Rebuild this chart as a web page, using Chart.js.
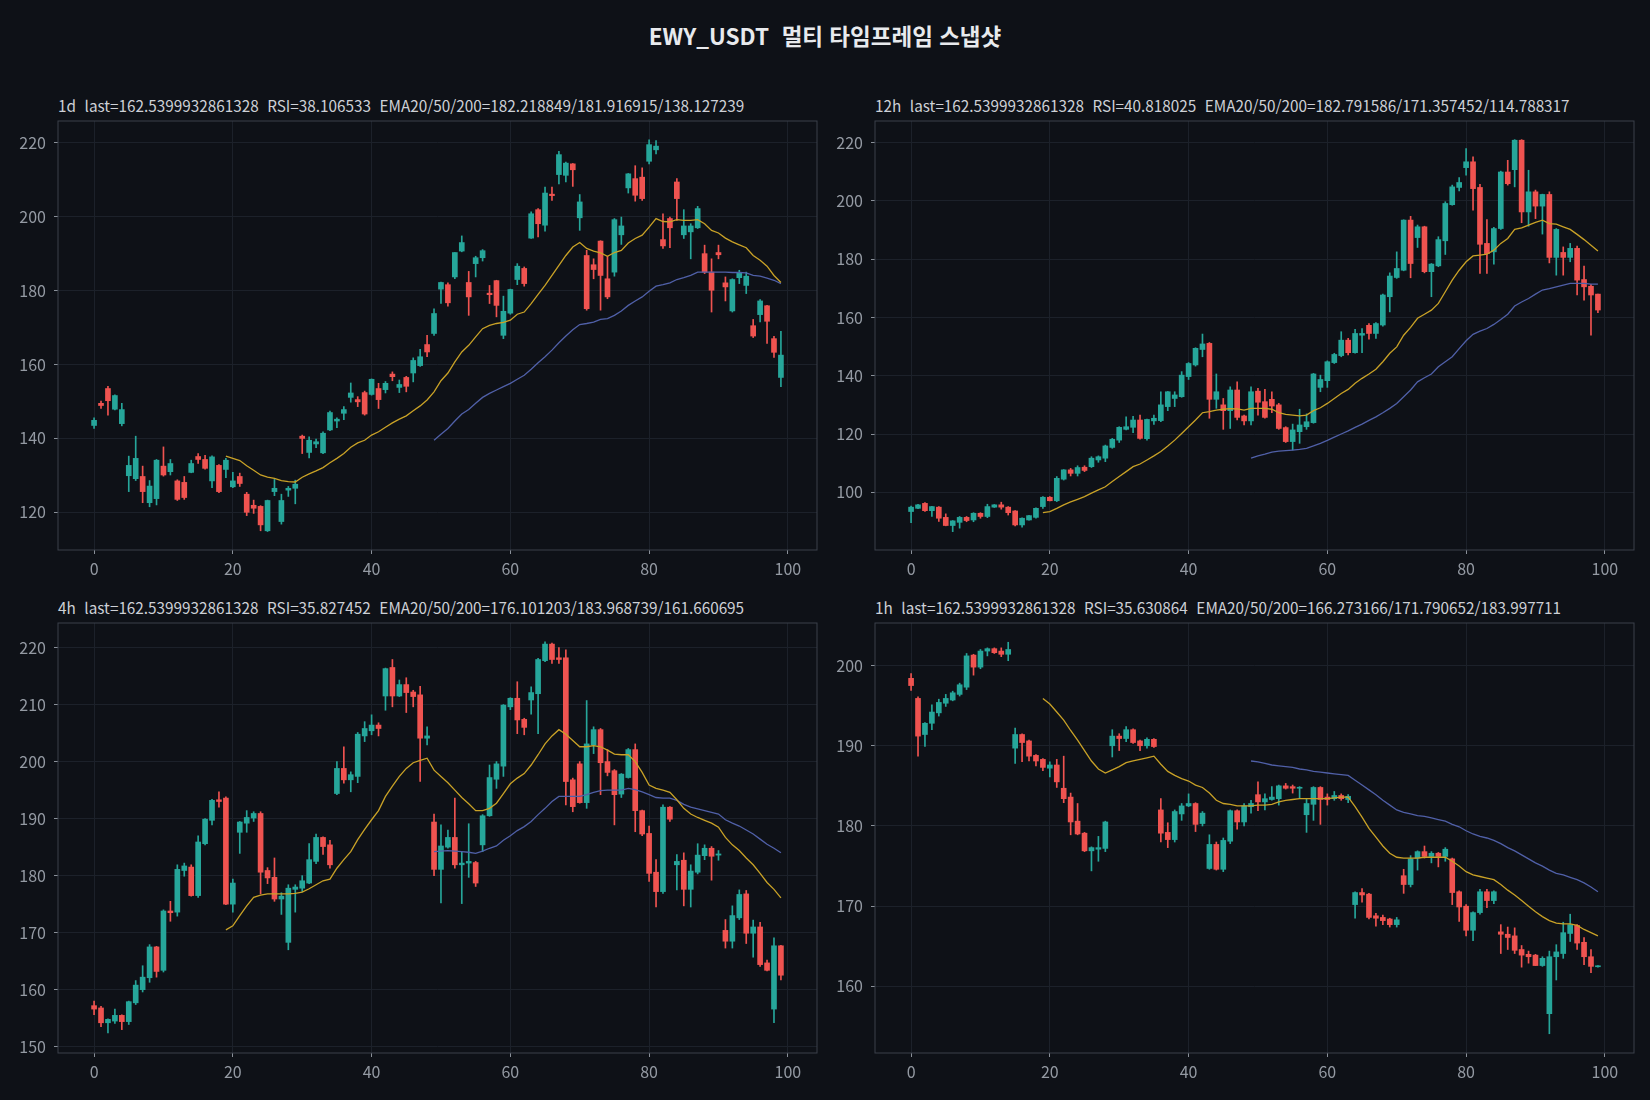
<!DOCTYPE html>
<html lang="ko">
<head>
<meta charset="utf-8">
<title>EWY_USDT 멀티 타임프레임 스냅샷</title>
<script src="https://cdn.jsdelivr.net/npm/chart.js@4.4.1/dist/chart.umd.min.js"></script>
<style>
  html, body { margin: 0; padding: 0; background: #0e1117; }
  body { width: 1650px; height: 1100px; position: relative; overflow: hidden;
         font-family: "Noto Sans CJK KR", "Noto Sans", sans-serif; }
  #title { position: absolute; left: 0; top: 19px; width: 1650px; text-align: center; white-space: pre;
           color: #e8eaed; font-size: 22.5px; font-weight: 700; line-height: 32px; }
  .sub { position: absolute; color: #cdd0d6; font-size: 15.3px; line-height: 18px; white-space: pre; }
  canvas { position: absolute; }
</style>
</head>
<body>
<div id="title">EWY_USDT  멀티 타임프레임 스냅샷</div>
<div class="sub" id="sub1d" style="left:58px; top:96px;"></div>
<div class="sub" id="sub12h" style="left:875px; top:96px;"></div>
<div class="sub" id="sub4h" style="left:58px; top:598px;"></div>
<div class="sub" id="sub1h" style="left:875px; top:598px;"></div>
<canvas id="c1d" width="828" height="474" style="left:0px; top:111px;"></canvas>
<canvas id="c12h" width="825" height="474" style="left:820px; top:111px;"></canvas>
<canvas id="c4h" width="828" height="475" style="left:0px; top:613px;"></canvas>
<canvas id="c1h" width="825" height="475" style="left:820px; top:613px;"></canvas>

<script>
// Colours
const GREEN = '#26a69a';
const RED = '#ef5350';
const EMA20_COLOR = '#c9a227';
const EMA50_COLOR = '#5060a8';
const GRID = '#1c212a';
const SPINE = '#3b404b';
const TICK_MARK = '#8a9099';
const TICK_TEXT = '#949aa3';
const FONT = '"Noto Sans CJK KR", "Noto Sans", sans-serif';

// Shared x ticks and EMA start offsets
const xTicks = [0, 20, 40, 60, 80, 100];
const EMA20_START = 19;
const EMA50_START = 49;

// ---- 1d ----
const d1Open = [143.5,149.5,153.5,147.9,144.0,129.9,129.1,129.7,122.6,123.7,132.5,131.0,128.5,128.1,130.8,135.1,134.3,128.5,132.7,131.6,
  126.9,129.7,124.9,121.9,121.6,115.0,125.6,117.5,126.0,126.5,140.6,136.2,138.5,136.1,142.3,144.7,146.8,151.1,150.5,152.4,
  151.9,153.5,153.2,157.4,153.8,156.5,157.7,159.7,165.4,168.4,180.4,181.6,183.7,190.7,182.2,187.3,188.9,179.3,182.7,167.9,
  173.9,183.0,186.0,194.2,201.9,197.7,206.1,211.4,211.2,214.3,199.7,189.5,187.0,193.4,183.2,185.0,195.1,207.8,210.3,210.7,
  215.0,218.1,193.8,199.5,209.4,195.1,195.9,197.0,190.0,185.0,190.3,182.1,174.5,183.5,181.4,170.5,173.5,175.9,167.0,156.5];
const d1High = [145.6,150.1,154.1,151.8,149.5,135.2,140.6,132.5,128.6,134.3,137.7,134.3,128.8,129.7,134.1,135.9,135.4,135.3,132.9,134.6,
  130.8,130.6,125.4,123.3,121.8,123.3,128.9,124.9,127.0,128.7,140.9,140.4,139.8,141.8,147.4,145.6,148.6,155.0,151.3,152.8,
  156.1,154.9,155.4,158.0,155.8,156.8,161.8,164.1,167.9,175.1,182.3,182.1,190.3,194.8,185.2,189.3,191.1,181.4,182.8,178.5,
  180.4,187.3,186.4,201.3,202.2,208.0,208.0,217.7,214.8,214.4,206.0,190.9,188.6,193.5,189.3,199.5,199.9,211.7,213.8,213.2,
  220.8,220.6,200.8,199.9,210.3,201.9,198.1,202.8,192.3,188.6,192.3,183.7,183.2,185.5,185.0,172.2,177.6,176.0,167.6,169.0];
const d1Low = [142.7,148.1,146.3,147.7,143.4,125.6,128.6,122.6,121.5,122.0,129.8,130.1,123.2,123.5,130.7,133.2,131.7,126.7,125.3,129.4,
  126.7,127.0,119.1,119.7,115.0,114.8,124.5,116.8,124.3,122.3,135.9,134.7,137.5,135.9,142.1,142.9,145.1,149.8,148.6,146.3,
  151.7,148.1,152.3,155.6,152.4,152.6,155.3,159.5,162.1,167.9,176.5,175.8,183.2,190.5,173.3,183.7,188.0,176.5,172.9,167.0,
  173.6,181.6,181.2,194.1,194.5,196.1,204.4,208.9,209.4,208.2,196.3,174.7,183.2,174.7,177.8,183.9,192.5,206.4,204.2,204.4,
  214.3,217.0,191.4,191.6,199.0,194.1,188.6,196.8,184.6,174.2,188.6,177.2,174.2,181.9,179.2,167.3,171.5,165.7,161.9,154.0];
const d1Close = [144.9,148.9,150.2,151.6,147.8,132.7,134.6,125.6,127.1,134.1,130.1,133.2,123.5,124.0,133.2,134.3,131.9,135.0,125.6,134.1,
  128.5,127.8,120.0,121.1,116.6,123.2,126.5,123.2,126.5,127.6,140.0,139.5,139.1,141.4,147.0,145.2,147.8,152.3,149.9,146.6,
  156.0,150.5,154.9,156.7,154.6,154.1,161.1,162.1,163.4,173.8,182.2,176.7,190.3,193.0,178.3,188.9,190.8,178.9,176.0,174.4,
  180.3,186.6,181.9,200.8,198.1,206.4,205.7,216.8,214.5,212.7,204.0,175.1,185.7,184.1,178.3,199.2,197.5,211.6,205.8,204.9,
  219.5,219.1,192.1,197.0,204.9,197.5,197.5,202.2,185.0,180.1,189.7,181.0,183.0,184.8,183.9,167.7,177.2,171.7,163.3,162.54];
const d1Ema20 = [135.2,134.6,134.0,132.6,131.4,130.1,129.5,129.2,128.6,128.3,128.2,
  129.5,130.4,131.2,132.1,133.4,134.6,135.9,137.6,138.8,139.5,
  140.9,141.8,143.0,144.2,145.2,146.1,147.5,148.8,150.4,152.6,
  155.6,157.7,160.7,163.4,165.2,167.5,169.7,170.6,171.1,171.4,
  172.0,173.6,174.2,176.5,179.0,181.4,184.1,186.8,189.5,191.8,
  193.0,191.4,190.7,190.2,189.3,190.3,190.9,192.9,194.1,195.0,
  197.2,199.5,198.7,198.6,199.2,199.0,199.0,199.2,198.1,196.3,
  195.6,194.2,193.2,192.4,191.6,189.5,188.2,186.6,184.1,182.2];
const d1Ema50 = [139.5,141.1,142.7,144.7,146.6,147.8,149.5,151.1,152.2,153.1,154.0,
  154.9,156.0,157.1,158.7,160.5,162.1,163.9,165.9,167.7,169.4,
  170.8,171.1,171.5,172.2,172.4,173.3,174.5,176.0,177.2,178.3,
  179.8,181.2,181.6,182.1,183.0,183.5,184.1,185.0,185.0,185.0,
  185.0,185.0,184.9,184.9,184.8,184.1,183.9,183.4,182.8,181.9];
const d1YTicks = [120, 140, 160, 180, 200, 220];

// ---- 12h ----
const h12Open = [93.4,94.5,96.2,93.7,94.9,91.4,88.6,89.7,91.4,90.5,92.8,91.7,94.9,95.7,94.9,93.6,88.8,90.5,91.4,95.1,
  98.3,97.1,104.5,107.7,106.5,108.6,108.8,111.1,111.7,115.4,117.9,121.6,122.3,124.8,118.4,124.5,124.6,129.4,132.2,132.8,
  139.7,143.7,149.0,151.1,131.9,130.0,128.0,135.1,126.2,124.5,134.7,131.1,131.9,130.0,122.2,117.4,120.8,122.5,123.9,136.0,
  138.3,144.5,146.9,152.2,147.9,153.9,157.3,154.5,157.4,167.1,173.7,176.2,193.4,187.4,191.1,175.7,177.7,186.3,198.7,204.6,
  211.4,213.4,204.6,185.4,182.5,190.5,209.9,210.7,220.8,196.2,203.1,198.2,202.2,180.6,182.3,180.6,183.7,173.0,170.7,168.0];
const h12High = [95.3,95.9,96.5,95.2,95.1,92.6,90.3,91.7,91.7,93.0,93.0,95.9,95.8,96.6,95.1,93.7,91.2,92.1,94.7,98.5,
  98.5,105.4,107.8,108.2,109.1,109.1,112.2,112.5,116.2,118.5,122.5,125.9,126.1,126.5,125.1,126.5,134.5,134.6,134.5,141.4,
  144.5,149.6,154.3,151.4,140.6,132.2,136.2,137.9,126.5,136.2,135.7,135.3,134.5,130.5,122.5,123.4,128.5,126.9,140.8,140.2,
  145.1,147.7,155.1,152.8,155.9,156.2,157.9,158.2,168.0,175.3,182.5,193.5,194.7,191.7,191.3,178.5,187.7,199.7,205.4,208.0,
  217.9,215.1,205.7,193.6,190.9,210.2,213.9,221.0,221.0,210.5,203.7,202.3,203.1,190.5,184.2,185.4,184.5,177.6,171.4,168.0];
const h12Low = [89.6,94.4,93.4,91.7,90.0,88.5,86.5,87.7,89.9,89.9,91.1,91.3,94.8,94.2,92.2,88.5,88.0,90.4,91.1,94.5,
  97.0,96.8,104.2,105.6,105.6,107.1,108.5,110.3,110.5,115.1,117.1,121.4,120.5,118.2,117.9,123.3,124.2,128.0,129.4,132.6,
  138.7,143.3,146.5,125.4,128.8,121.6,121.9,124.8,123.1,123.1,126.5,125.4,127.3,121.6,117.1,114.5,116.8,121.6,123.7,134.5,
  136.0,144.2,146.5,147.1,147.7,147.9,152.5,152.8,157.0,161.9,173.4,176.0,173.6,184.0,175.3,167.1,177.4,181.6,198.5,203.4,
  208.8,196.8,175.1,175.1,178.3,190.2,205.4,204.8,192.5,191.3,193.9,188.6,178.7,174.5,174.5,179.1,167.7,165.9,153.9,161.6];
const h12Close = [94.9,95.7,93.7,95.1,91.1,88.6,90.2,91.4,90.3,92.8,91.7,95.1,95.7,94.9,93.0,88.8,91.1,92.0,94.5,98.3,
  97.1,104.8,107.7,106.5,108.5,107.5,111.7,112.2,115.9,118.2,122.3,122.5,124.8,118.5,125.0,125.4,130.0,134.5,133.4,140.2,
  144.2,149.4,150.9,131.9,134.5,128.0,135.1,125.7,124.5,134.5,130.9,125.7,129.6,121.9,117.4,121.4,123.1,124.2,140.6,138.7,
  144.8,147.3,152.2,147.9,154.5,154.5,154.5,157.9,167.7,174.2,176.8,193.4,178.5,191.1,175.7,178.3,186.7,199.1,204.8,206.3,
  213.4,204.2,185.1,181.9,190.5,209.9,205.9,220.8,196.2,203.1,198.2,202.2,180.6,190.2,180.6,183.7,172.8,170.5,167.7,162.54];
const h12Ema20 = [93.0,93.4,94.5,95.7,96.7,97.6,98.5,99.7,100.8,101.9,103.7,
  105.4,107.1,108.8,109.7,111.1,112.5,114.0,115.9,117.9,120.2,
  122.5,124.8,127.3,127.7,128.2,128.5,128.7,128.6,128.2,128.8,
  128.8,128.8,128.5,127.3,126.7,126.5,126.2,126.5,128.0,129.0,
  130.5,132.2,133.9,135.3,137.4,139.1,140.6,142.2,144.8,147.7,
  149.9,153.9,156.6,159.7,161.1,162.5,164.8,168.8,172.8,176.2,
  179.1,181.1,181.4,181.7,183.1,185.4,187.1,190.2,190.7,191.7,
  192.6,193.4,192.2,192.0,191.1,190.2,188.5,186.7,184.8,182.8];
const h12Ema50 = [111.7,112.5,113.1,113.8,114.1,114.3,114.5,114.7,115.1,115.9,116.8,
  117.8,118.9,120.0,121.1,122.3,123.4,124.7,125.9,127.3,128.8,
  130.5,132.8,135.1,137.9,139.3,140.6,143.1,144.8,146.5,149.3,
  152.0,154.2,155.3,156.2,157.6,159.3,161.1,163.9,165.3,166.5,
  168.0,169.4,169.9,170.5,171.1,171.7,171.7,171.7,171.4,171.4];
const h12YTicks = [100, 120, 140, 160, 180, 200, 220];

// ---- 4h ----
const h4Open = [157.2,156.8,154.2,154.5,155.5,154.4,157.7,160.0,162.1,167.5,163.4,173.8,173.6,180.9,181.5,176.5,185.6,189.7,193.3,193.6,
  175.0,187.6,189.2,190.1,190.9,180.9,179.7,175.9,168.3,177.6,177.8,178.7,182.5,186.7,185.4,194.4,198.8,196.8,197.4,204.5,
  205.4,206.4,211.5,216.5,211.5,213.5,212.2,211.7,204.1,189.4,181.1,185.0,186.7,181.9,182.2,182.3,185.4,190.5,196.9,199.2,
  209.6,211.1,207.4,210.8,211.9,217.7,220.6,218.2,218.2,196.8,199.6,192.8,202.9,205.6,200.0,198.4,194.3,197.2,202.1,191.4,
  187.4,180.6,177.2,192.0,181.9,182.7,177.6,180.6,183.5,184.8,183.6,170.4,168.5,172.6,176.8,169.9,171.0,164.7,156.6,167.7];
const h4High = [158.0,157.1,154.9,156.6,155.6,158.0,161.6,164.2,167.9,167.6,174.0,175.5,181.9,182.2,181.9,187.0,190.0,193.4,194.7,193.8,
  179.4,189.5,191.4,191.2,191.2,181.4,183.1,177.0,178.4,178.4,180.0,185.6,187.3,186.8,186.2,200.0,202.6,198.2,205.1,207.0,
  208.2,206.8,216.4,217.9,214.3,214.7,212.5,213.2,206.1,190.8,188.9,188.0,193.6,184.2,189.1,182.5,190.7,199.4,200.0,210.0,
  211.2,214.0,207.6,213.1,218.1,221.0,220.8,220.0,219.6,197.1,200.0,210.7,206.1,205.8,202.1,198.6,197.9,202.3,203.1,191.5,
  188.7,182.8,192.4,192.1,183.7,184.0,181.9,185.6,185.4,185.1,184.4,172.3,174.7,177.5,177.4,172.2,171.8,165.2,169.1,167.8];
const h4Low = [155.6,153.5,152.4,154.1,153.0,153.9,157.4,159.6,161.3,162.2,163.1,172.0,172.9,179.9,176.4,176.2,185.4,188.9,192.0,174.9,
  173.6,183.9,187.6,189.5,176.8,178.6,175.5,173.2,167.0,173.6,177.2,178.6,182.1,183.7,181.3,194.2,196.2,194.7,196.3,203.5,
  204.7,204.5,209.0,209.6,211.4,208.6,209.6,196.5,202.9,180.0,175.2,184.8,181.3,175.1,179.7,178.1,184.2,190.4,195.3,197.4,
  209.1,204.9,204.7,208.3,204.9,217.5,217.2,217.2,192.4,191.2,192.7,191.8,201.4,194.2,197.5,188.9,193.7,197.1,187.7,187.0,
  179.0,174.5,176.9,189.5,177.5,174.7,174.5,180.3,182.8,179.2,182.7,167.3,167.3,172.3,168.1,165.7,164.1,163.3,154.2,161.7];
const h4Close = [156.6,154.2,154.8,155.5,154.4,157.9,160.8,162.2,167.5,163.2,173.8,173.5,181.1,181.7,176.5,185.9,189.9,193.2,193.0,175.0,
  178.7,189.4,190.2,190.9,180.6,179.6,175.9,176.4,177.8,178.0,179.1,182.8,186.7,185.1,181.9,198.8,196.8,197.7,204.8,205.8,
  206.4,205.8,216.3,211.5,213.5,212.1,211.4,204.1,204.5,181.1,185.2,186.7,181.9,182.2,182.5,178.7,190.5,197.2,199.6,209.9,
  211.1,207.3,206.0,212.1,217.9,220.6,217.9,217.9,196.5,192.1,192.8,203.1,205.6,199.8,198.1,194.2,197.8,202.1,191.4,187.3,
  180.4,177.2,192.0,189.9,182.5,177.6,180.8,183.6,184.8,183.4,183.8,168.5,173.0,176.7,169.9,171.0,164.4,163.4,167.7,162.54];
const h4Ema20 = [170.5,171.2,173.0,174.7,176.2,176.6,176.8,176.8,176.8,176.8,176.9,
  177.1,177.7,178.4,179.1,179.4,181.3,182.8,184.2,186.3,188.1,
  189.8,191.4,193.9,195.7,197.4,198.8,199.8,200.2,200.6,198.5,
  197.4,196.3,195.0,193.7,192.6,191.4,191.4,191.8,192.7,194.4,
  196.1,197.1,197.9,199.4,201.2,203.1,204.5,205.6,204.8,203.7,
  202.6,202.6,202.8,202.6,202.0,201.3,201.2,201.2,200.0,198.1,
  195.9,195.3,195.0,194.6,193.3,191.8,190.8,190.2,189.7,189.2,
  188.5,186.7,185.4,184.4,183.1,181.9,180.4,178.8,177.6,176.1];
const h4Ema50 = [184.2,184.3,184.4,184.3,184.2,184.1,183.9,184.3,184.8,185.2,186.2,
  187.0,187.9,188.6,189.5,190.7,191.8,193.0,193.9,193.9,193.9,
  193.9,194.2,194.6,194.9,195.0,195.0,195.0,195.3,195.1,194.7,
  194.2,193.7,193.6,193.6,193.2,192.5,192.0,191.7,191.4,191.1,
  190.8,189.8,189.2,188.7,188.0,187.3,186.4,185.5,184.8,184.0];
const h4YTicks = [150, 160, 170, 180, 190, 200, 210, 220];

// ---- 1h ----
const h1Open = [198.4,195.9,191.4,192.8,194.1,195.3,195.7,196.4,197.3,201.3,199.8,201.8,202.1,201.8,201.4,189.7,191.4,190.6,188.8,188.3,
  187.2,187.6,184.7,183.6,180.6,179.1,176.9,177.1,177.2,190.0,191.2,190.9,192.0,190.6,190.0,190.8,182.0,179.2,178.3,181.5,
  182.5,182.8,180.3,174.7,177.7,174.6,178.1,181.9,180.5,182.4,183.9,183.0,183.3,183.4,185.0,184.9,184.7,181.4,182.7,184.8,
  183.6,183.4,183.8,183.3,170.2,171.7,171.5,168.8,168.6,168.4,167.7,173.8,172.7,176.0,176.8,176.2,176.6,176.2,175.9,171.8,
  170.0,167.0,169.2,171.8,170.7,166.8,166.5,166.3,164.6,164.0,163.9,162.6,156.6,163.7,164.1,166.6,167.6,165.5,163.7,162.45];
const h1High = [199.0,196.1,192.9,195.1,195.8,196.4,196.8,197.8,201.5,201.4,202.0,202.2,202.2,202.2,202.9,192.2,191.5,190.7,188.9,188.4,
  188.0,188.3,188.7,184.1,182.8,179.2,177.4,178.7,180.6,192.0,191.5,192.4,192.1,190.7,191.0,190.9,183.4,180.4,182.0,182.8,
  184.0,182.9,181.8,178.9,178.0,178.5,182.0,182.0,182.8,183.2,185.5,184.0,184.9,185.1,185.3,185.1,184.9,183.4,184.9,184.9,
  184.0,184.3,184.0,183.9,171.8,172.2,171.6,169.1,168.9,168.5,168.6,174.6,176.3,176.9,177.5,176.8,176.7,177.3,176.0,171.9,
  170.2,169.3,172.1,172.1,171.9,167.7,167.4,167.3,165.1,164.4,164.0,163.7,164.4,165.2,168.0,169.0,167.7,166.1,164.6,162.6];
const h1Low = [196.9,188.7,189.9,192.0,193.7,194.9,195.6,196.2,197.0,198.8,199.6,201.2,201.5,201.1,200.6,187.8,188.0,188.1,187.5,186.9,
  186.1,184.8,182.9,178.9,178.9,176.8,174.4,175.6,176.8,188.6,189.4,190.5,190.3,189.4,189.7,189.8,178.0,177.3,178.0,180.7,
  182.4,179.3,180.0,174.6,174.5,174.3,177.8,179.6,180.0,181.6,181.9,182.0,183.2,182.6,184.6,184.1,183.4,179.2,180.7,180.2,
  182.6,183.2,183.2,182.9,168.5,170.5,168.4,167.5,167.7,167.4,167.4,171.6,172.4,174.5,176.0,175.4,174.9,175.6,170.2,168.1,
  166.3,165.7,169.0,169.8,170.3,164.1,164.6,164.1,162.4,162.9,162.6,162.5,154.1,160.8,163.5,165.6,164.6,162.7,161.7,162.4];
const h1Close = [197.5,191.2,192.8,194.2,195.4,195.9,196.6,197.6,201.2,199.8,201.8,202.1,201.6,201.4,202.0,191.4,190.4,188.7,188.1,187.3,
  187.6,185.5,183.4,180.5,179.0,176.9,177.3,177.3,180.5,191.2,190.9,192.0,190.4,190.0,190.8,189.9,179.1,178.3,181.8,182.5,
  182.8,180.2,181.6,177.7,174.6,178.2,181.9,180.5,182.5,182.8,183.0,183.4,183.6,185.0,184.7,184.7,184.8,182.8,184.8,183.3,
  183.3,183.8,183.4,183.7,171.7,171.4,168.6,168.5,168.2,167.7,168.3,172.7,175.9,176.8,176.2,176.6,176.2,177.1,171.7,169.9,
  167.0,169.2,171.8,170.7,171.8,166.5,166.1,164.5,163.9,163.7,162.6,163.5,163.7,164.3,166.7,167.7,165.4,163.7,162.5,162.54];
const h1Ema20 = [195.9,195.2,194.2,193.2,191.9,190.7,189.4,188.1,187.1,186.6,187.0,
  187.4,187.9,188.1,188.3,188.5,188.7,187.7,186.8,186.3,185.9,
  185.6,185.1,184.8,184.1,183.2,182.8,182.7,182.5,182.5,182.5,
  182.6,182.6,182.7,183.0,183.2,183.3,183.4,183.4,183.4,183.4,
  183.4,183.5,183.6,183.6,182.4,181.1,179.7,178.6,177.5,176.6,
  176.1,176.0,176.0,176.0,176.1,176.1,176.1,176.1,175.6,175.0,
  174.3,173.9,173.7,173.5,173.3,172.7,172.0,171.4,170.7,170.0,
  169.3,168.7,168.2,167.9,167.8,167.8,167.6,167.1,166.7,166.3];
const h1Ema50 = [188.1,188.0,187.8,187.6,187.5,187.4,187.3,187.1,187.0,186.8,186.7,
  186.6,186.5,186.4,186.3,185.7,185.1,184.5,183.9,183.2,182.6,
  182.0,181.7,181.5,181.3,181.2,181.0,180.8,180.6,180.2,179.9,
  179.4,179.0,178.7,178.5,178.2,177.8,177.3,176.9,176.4,175.9,
  175.4,175.0,174.5,174.1,173.9,173.6,173.3,172.9,172.4,171.8];
const h1YTicks = [160, 170, 180, 190, 200];

// Draw all four spines round the plot area
const framePlugin = {
    id: 'frame',
    afterDatasetsDraw(chart) {
        const { ctx, chartArea: a } = chart;
        ctx.save();
        ctx.strokeStyle = SPINE;
        ctx.lineWidth = 1;
        ctx.strokeRect(a.left, a.top, a.right - a.left, a.bottom - a.top);
        ctx.restore();
    }
};

const buildPanel = (p) => {
    document.getElementById(p.subId).textContent = p.subtitle;

    const idx = p.open.map((_, i) => i);
    const colors = idx.map(i => (p.close[i] >= p.open[i] ? GREEN : RED));

    const wicks = idx.map(i => ({ x: i, y: [p.low[i], p.high[i]] }));
    const bodies = idx.map(i => ({
        x: i,
        y: [Math.min(p.open[i], p.close[i]), Math.max(p.open[i], p.close[i])]
    }));
    const ema20 = p.ema20.map((v, k) => ({ x: k + EMA20_START, y: v }));
    const ema50 = p.ema50.map((v, k) => ({ x: k + EMA50_START, y: v }));

    const tickFont = { family: FONT, size: 16 };

    return new Chart(document.getElementById(p.canvasId), {
        type: 'bar',
        data: {
            datasets: [
                {
                    type: 'line', data: ema20, borderColor: EMA20_COLOR, borderWidth: 1.3,
                    pointRadius: 0, fill: false, tension: 0, order: 0
                },
                {
                    type: 'line', data: ema50, borderColor: EMA50_COLOR, borderWidth: 1.3,
                    pointRadius: 0, fill: false, tension: 0, order: 0
                },
                {
                    data: bodies, backgroundColor: colors, borderWidth: 0,
                    barThickness: 5, minBarLength: 1, grouped: false, order: 1
                },
                {
                    data: wicks, backgroundColor: colors, borderWidth: 0,
                    barThickness: 1, grouped: false, order: 2
                }
            ]
        },
        options: {
            responsive: false,
            animation: false,
            layout: { padding: { top: 10, right: 11, left: 0, bottom: 0 } },
            plugins: { legend: { display: false }, tooltip: { enabled: false } },
            scales: {
                x: {
                    type: 'linear',
                    min: -5.2,
                    max: 104.2,
                    offset: false,
                    afterBuildTicks: s => { s.ticks = xTicks.map(v => ({ value: v })); },
                    afterFit: s => { s.height = 35; s.paddingLeft = 0; s.paddingRight = 0; },
                    grid: { color: GRID, tickColor: TICK_MARK, tickLength: 4, offset: false },
                    border: { display: false },
                    ticks: { color: TICK_TEXT, font: tickFont, padding: 5, maxRotation: 0 }
                },
                y: {
                    type: 'linear',
                    min: p.yMin,
                    max: p.yMax,
                    afterBuildTicks: s => { s.ticks = p.yTicks.map(v => ({ value: v })); },
                    afterFit: s => { s.width = p.yWidth; s.paddingTop = 0; s.paddingBottom = 0; },
                    grid: { color: GRID, tickColor: TICK_MARK, tickLength: 4 },
                    border: { display: false },
                    ticks: { color: TICK_TEXT, font: tickFont, padding: 8 }
                }
            }
        },
        plugins: [framePlugin]
    });
};

const panels = [
    {
        canvasId: 'c1d', subId: 'sub1d', yWidth: 58, yMin: 109.8, yMax: 225.9, yTicks: d1YTicks,
        open: d1Open, high: d1High, low: d1Low, close: d1Close, ema20: d1Ema20, ema50: d1Ema50,
        subtitle: '1d  last=162.5399932861328  RSI=38.106533  EMA20/50/200=182.218849/181.916915/138.127239'
    },
    {
        canvasId: 'c12h', subId: 'sub12h', yWidth: 55, yMin: 80.2, yMax: 227.4, yTicks: h12YTicks,
        open: h12Open, high: h12High, low: h12Low, close: h12Close, ema20: h12Ema20, ema50: h12Ema50,
        subtitle: '12h  last=162.5399932861328  RSI=40.818025  EMA20/50/200=182.791586/171.357452/114.788317'
    },
    {
        canvasId: 'c4h', subId: 'sub4h', yWidth: 58, yMin: 148.9, yMax: 224.3, yTicks: h4YTicks,
        open: h4Open, high: h4High, low: h4Low, close: h4Close, ema20: h4Ema20, ema50: h4Ema50,
        subtitle: '4h  last=162.5399932861328  RSI=35.827452  EMA20/50/200=176.101203/183.968739/161.660695'
    },
    {
        canvasId: 'c1h', subId: 'sub1h', yWidth: 55, yMin: 151.7, yMax: 205.3, yTicks: h1YTicks,
        open: h1Open, high: h1High, low: h1Low, close: h1Close, ema20: h1Ema20, ema50: h1Ema50,
        subtitle: '1h  last=162.5399932861328  RSI=35.630864  EMA20/50/200=166.273166/171.790652/183.997711'
    }
];

panels.forEach(buildPanel);
</script>
</body>
</html>
